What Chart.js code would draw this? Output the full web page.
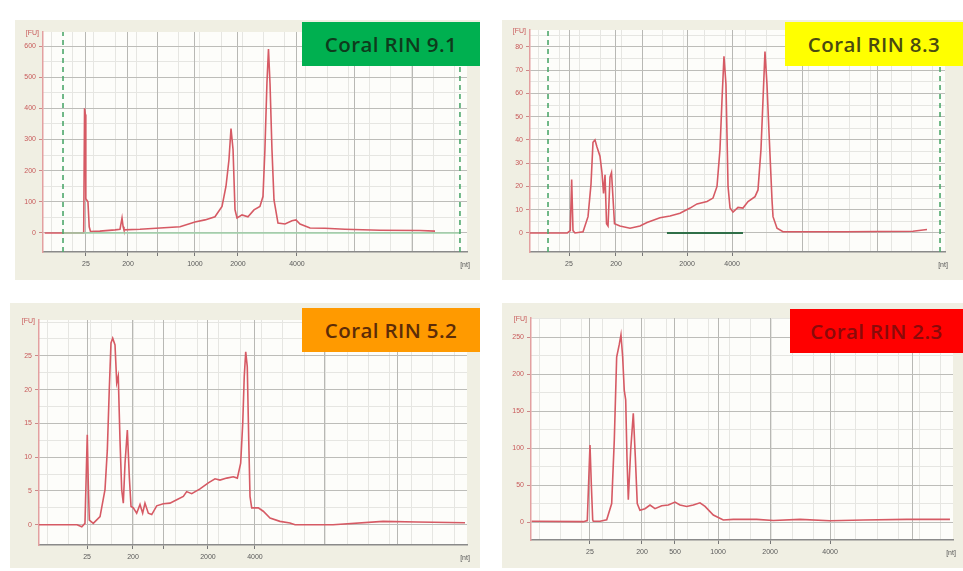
<!DOCTYPE html>
<html lang="en">
<head>
<meta charset="UTF-8">
<title>Coral RIN electropherograms</title>
<script src="https://cdn.jsdelivr.net/npm/chart.js"></script>
<style>
  body { margin: 0; width: 963px; height: 571px; background: #fff; position: relative; overflow: hidden; font-family: "Open Sans", sans-serif; }
  .panel { position: absolute; background: #f0efe3; }
  .rin { position: absolute; height: 44px; line-height: 44px; text-align: center; font-size: 20.5px; font-weight: 600; letter-spacing: 0.4px; }
</style>
</head>
<body>
<div class="panel" style="left:15px; top:20px; width:465px; height:260px;"><canvas id="g1" width="465" height="260"></canvas></div>
<div class="panel" style="left:502px; top:20px; width:461px; height:260px;"><canvas id="g2" width="461" height="260"></canvas></div>
<div class="panel" style="left:10px; top:303px; width:470px; height:265px;"><canvas id="g3" width="470" height="265"></canvas></div>
<div class="panel" style="left:502px; top:303px; width:461px; height:265px;"><canvas id="g4" width="461" height="265"></canvas></div>

<div class="rin" style="left:302px; top:22px; width:178px; background:#00b050; color:#0e3b1c;">Coral RIN 9.1</div>
<div class="rin" style="left:785px; top:22px; width:178px; background:#ffff00; color:#4a4a10;">Coral RIN 8.3</div>
<div class="rin" style="left:302px; top:308px; width:178px; background:#ff9a00; color:#5c2c08;">Coral RIN 5.2</div>
<div class="rin" style="left:790px; top:309px; width:173px; background:#ff0000; color:#8a0a0a;">Coral RIN 2.3</div>

<script>
// tempo de migração (s) e fluorescência (FU) de cada amostra
const p1Tempo = [19.2, 23.8, 23.9, 24.0, 24.05, 24.3, 24.45, 24.6, 25.7, 27.5, 28.08, 28.2, 28.32, 28.45, 28.55, 30.44, 32.8, 35.16, 36.92, 38.1, 39.28, 40.11, 40.58, 40.93, 41.17, 41.41, 41.64, 41.88, 42.47, 43.17, 43.88, 44.58, 44.94, 45.17, 45.41, 45.59, 45.77, 46.0, 46.24, 46.71, 47.54, 48.36, 48.83, 49.31, 50.49, 52.25, 54.61, 58.74, 63.46, 65.23];
const p1Fu    = [0, 0, 400, 380, 110, 100, 20, 5, 6, 10, 12, 30, 48, 20, 10, 12, 16, 20, 35, 42, 52, 85, 150, 235, 335, 268, 75, 48, 58, 52, 74, 85, 117, 268, 483, 590, 480, 268, 106, 32, 29, 39, 42, 29, 16, 15, 12, 9, 8, 6];

const p2Tempo = [19, 23.5, 23.85, 24.02, 24.18, 24.42, 25.39, 25.99, 26.35, 26.59, 26.83, 27.07, 27.43, 27.67, 27.86, 28.04, 28.22, 28.4, 28.64, 28.82, 29.0, 29.18, 29.84, 31.05, 32.25, 33.1, 34.66, 35.87, 37.07, 38.28, 39.12, 40.33, 41.05, 41.53, 41.89, 42.13, 42.37, 42.61, 42.73, 42.86, 43.1, 43.46, 44.06, 44.66, 45.27, 46.11, 46.47, 46.83, 47.07, 47.31, 47.55, 47.8, 48.16, 48.28, 48.76, 49.48, 57, 65.14, 66.83];
const p2Fu    = [0, 0, 1, 23, 1, 0, 0.5, 7, 21, 39, 40, 37, 33, 26, 17, 25, 4, 3, 24, 26, 15, 4, 3, 2, 3, 4.5, 6.5, 7.3, 8.5, 10.7, 12.5, 13.5, 15, 20, 36, 57, 76, 64, 43, 20, 10.7, 9, 11, 10.7, 13.5, 15.6, 18.5, 36, 57, 78, 64, 43, 14, 7, 2, 0.5, 0.5, 0.7, 1.5];

const p3Tempo = [19, 23.44, 24.0, 24.37, 24.53, 24.64, 24.76, 24.88, 25.34, 26.13, 26.71, 26.98, 27.21, 27.41, 27.61, 27.88, 28.08, 28.26, 28.46, 28.66, 28.85, 29.05, 29.32, 29.55, 29.75, 30.02, 30.41, 30.8, 31.11, 31.38, 31.77, 32.17, 32.75, 33.52, 34.3, 35.09, 35.86, 36.25, 36.84, 37.81, 38.78, 39.56, 40.14, 40.93, 41.7, 42.17, 42.56, 42.8, 42.98, 43.15, 43.33, 43.5, 43.65, 43.85, 44.62, 45.2, 45.99, 47.15, 48.32, 48.91, 53.35, 59.19, 63.16, 68.77];
const p3Fu    = [0, 0, -0.3, 0.2, 8, 13.3, 6, 0.7, 0.2, 1.2, 5.2, 11, 20, 26.9, 27.6, 26.6, 21, 22, 12.6, 5.2, 3.2, 9.1, 14, 7.1, 2.7, 2.5, 1.7, 3, 1.7, 3.2, 1.7, 1.5, 2.8, 3.1, 3.2, 3.7, 4.2, 4.9, 4.6, 5.3, 6.2, 6.8, 6.6, 6.9, 7.1, 6.9, 9.1, 15, 22, 25.6, 23.4, 12.6, 4.2, 2.5, 2.5, 2, 1, 0.5, 0.25, 0, 0, 0.5, 0.4, 0.3];

const p4Tempo = [19.08, 25.2, 25.67, 25.85, 25.99, 26.15, 26.31, 26.38, 27.18, 27.97, 28.56, 28.87, 29.15, 29.46, 29.66, 29.86, 30.05, 30.22, 30.37, 30.53, 30.81, 31.12, 31.36, 31.59, 31.91, 32.51, 33.1, 33.69, 34.49, 35.27, 36.06, 36.65, 37.45, 38.23, 39.02, 39.62, 40.6, 41.78, 42.97, 45.74, 47.71, 50.87, 54.43, 58.37, 63.51, 68.64];
const p4Fu    = [1, 0.5, 2, 60, 104, 50, 3, 1, 1, 3, 25, 111, 223, 240, 253, 223, 178, 165, 88, 30, 97, 147, 88, 25, 16, 18, 23, 18, 22, 23, 27, 23, 21, 23, 26, 21, 9.5, 2.7, 3.6, 3.6, 2, 3.6, 1.8, 2.7, 3.6, 3.6];

// posições do ladder no eixo x (s) e rótulos em nt
const p1Ladder = [24.07, 29.02, 32.56, 36.92, 41.99, 48.95];
const p1LadderLbl = ['25', '200', '', '1000', '2000', '4000'];
const p1Extra = [55.79, 62.63];
const p2Ladder = [23.70, 29.36, 32.61, 37.92, 43.34];
const p2LadderLbl = ['25', '200', '', '2000', '4000'];
const p2Extra = [51.89, 60.81];
const p3Ladder = [24.61, 29.98, 33.49, 38.74, 44.23];
const p3LadderLbl = ['25', '200', '', '2000', '4000'];
const p3Extra = [52.4, 60.9];
const p4Ladder = [25.99, 32.15, 36.06, 41.16, 47.32, 54.43];
const p4LadderLbl = ['25', '200', '500', '1000', '2000', '4000'];
const p4Extra = [64.26];

// ticks do eixo y (FU)
const p1Yticks = [0, 100, 200, 300, 400, 500, 600];
const p2Yticks = [0, 10, 20, 30, 40, 50, 60, 70, 80];
const p3Yticks = [0, 5, 10, 15, 20, 25];
const p4Yticks = [0, 50, 100, 150, 200, 250];

// marcadores verdes (inicio/fim) e baseline
const p1Marcas = [21.36, 68.17];
const p2Marcas = [21.17, 68.40];
const p1Base = [21.36, 68.17];
const p2Base = [35.5, 44.66];

function faixa(a, b, passo) {
  const out = [];
  for (let v = a; v <= b + 1e-9; v += passo) out.push(+v.toFixed(3));
  return out;
}

const fundoPlot = {
  id: 'fundoPlot',
  beforeDraw(chart) {
    const c = chart.ctx, a = chart.chartArea;
    c.save();
    c.fillStyle = '#fdfdfa';
    c.fillRect(a.left, a.top, a.right - a.left, a.bottom - a.top);
    c.restore();
  }
};

const unidades = {
  id: 'unidades',
  afterDraw(chart) {
    const c = chart.ctx, a = chart.chartArea;
    c.save();
    c.font = '7px "Liberation Sans", sans-serif';
    c.fillStyle = '#c85a5a';
    c.textAlign = 'right';
    c.textBaseline = 'middle';
    c.fillText('[FU]', a.left - 4, a.top + 1);
    c.fillStyle = '#555';
    c.textAlign = 'center';
    c.fillText('[nt]', a.right - 2, a.bottom + 13);
    c.restore();
  }
};

function criarPainel(id, p) {
  const verde = '#4ea76c';
  const datasets = [];
  (p.marcas || []).forEach(m => {
    datasets.push({ data: [{ x: m, y: p.ymin }, { x: m, y: p.ymax }], borderColor: verde, borderWidth: 1.6, borderDash: [5, 4] });
  });
  if (p.base) {
    datasets.push({ data: [{ x: p.base[0], y: 0 }, { x: p.base[1], y: 0 }], borderColor: p.baseCor, borderWidth: p.baseLarg });
  }
  datasets.push({
    data: p.tempo.map((t, i) => ({ x: t, y: p.fu[i] })),
    borderColor: '#d65a64',
    borderWidth: 1.6
  });

  const ticksX = p.ladder.concat(p.extra);
  const labelsX = p.ladderLbl.concat(p.extra.map(() => ''));

  return new Chart(document.getElementById(id), {
    type: 'line',
    data: { datasets },
    options: {
      responsive: false,
      animation: false,
      events: [],
      elements: { point: { radius: 0 }, line: { tension: 0 } },
      layout: { padding: { top: p.top, right: p.right, left: 0, bottom: 0 } },
      plugins: { legend: { display: false }, tooltip: { enabled: false } },
      scales: {
        xm: {
          type: 'linear', position: 'top', min: 19, max: 69, z: -1,
          afterBuildTicks: ax => { ax.ticks = faixa(20, 68.5, 2.5).map(v => ({ value: v })); },
          afterFit: ax => { ax.height = 0; },
          ticks: { display: false },
          grid: { color: '#e6e6e2', drawTicks: false, lineWidth: 1 },
          border: { display: false }
        },
        ym: {
          type: 'linear', position: 'right', min: p.ymin, max: p.ymax, z: -1,
          afterBuildTicks: ax => { ax.ticks = faixa(p.yticks[0], p.ymax, p.ystep / 2).map(v => ({ value: v })); },
          afterFit: ax => { ax.width = 0; },
          ticks: { display: false },
          grid: { color: '#e6e6e2', drawTicks: false, lineWidth: 1 },
          border: { display: false }
        },
        x: {
          type: 'linear', position: 'bottom', min: 19, max: 69,
          afterBuildTicks: ax => { ax.ticks = ticksX.map(v => ({ value: v })); },
          afterFit: ax => { ax.height = p.xh; },
          ticks: {
            autoSkip: false, maxRotation: 0, padding: 4,
            color: '#5a5a5a', font: { size: 7, family: 'Liberation Sans' },
            callback: (v, i) => labelsX[i]
          },
          grid: {
            color: '#b8b8b4', lineWidth: 1, tickLength: 4,
            tickColor: c => c.index < p.ladder.length ? '#777' : 'rgba(0,0,0,0)'
          },
          border: { color: '#8a8a8a', width: 1.5 }
        },
        y: {
          type: 'linear', position: 'left', min: p.ymin, max: p.ymax,
          afterBuildTicks: ax => { ax.ticks = p.yticks.map(v => ({ value: v })); },
          afterFit: ax => { ax.width = p.left; },
          ticks: { padding: 3, color: '#c85a5a', font: { size: 7, family: 'Liberation Sans' } },
          grid: { color: '#bdbdb9', lineWidth: 1, tickLength: 4, tickColor: '#c88' },
          border: { color: '#e3a0a0', width: 1.5 }
        }
      }
    },
    plugins: [fundoPlot, unidades]
  });
}

criarPainel('g1', {
  tempo: p1Tempo, fu: p1Fu, ladder: p1Ladder, ladderLbl: p1LadderLbl, extra: p1Extra,
  yticks: p1Yticks, ystep: 100, ymin: -61, ymax: 645,
  marcas: p1Marcas, base: p1Base, baseCor: '#9fd0a8', baseLarg: 1.5,
  left: 28, top: 12, right: 13, xh: 28
});
criarPainel('g2', {
  tempo: p2Tempo, fu: p2Fu, ladder: p2Ladder, ladderLbl: p2LadderLbl, extra: p2Extra,
  yticks: p2Yticks, ystep: 10, ymin: -8.2, ymax: 87.3,
  marcas: p2Marcas, base: p2Base, baseCor: '#2f6f48', baseLarg: 2,
  left: 28, top: 10, right: 18, xh: 28
});
criarPainel('g3', {
  tempo: p3Tempo, fu: p3Fu, ladder: p3Ladder, ladderLbl: p3LadderLbl, extra: p3Extra,
  yticks: p3Yticks, ystep: 5, ymin: -3.0, ymax: 30.3,
  left: 29, top: 17, right: 13, xh: 23
});
criarPainel('g4', {
  tempo: p4Tempo, fu: p4Fu, ladder: p4Ladder, ladderLbl: p4LadderLbl, extra: p4Extra,
  yticks: p4Yticks, ystep: 50, ymin: -24.3, ymax: 275.7,
  left: 29, top: 15, right: 10, xh: 28
});
</script>
</body>
</html>
